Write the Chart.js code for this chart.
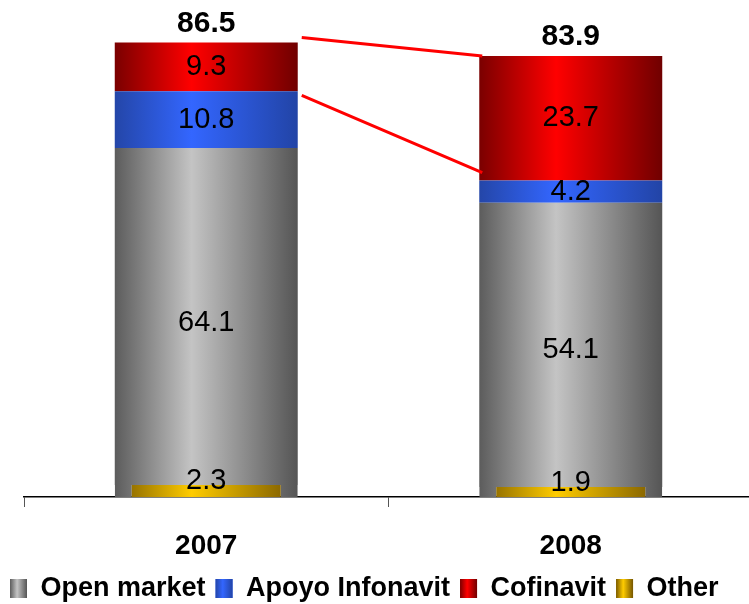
<!DOCTYPE html>
<html>
<head>
<meta charset="utf-8">
<script src="https://cdn.jsdelivr.net/npm/chart.js@4.4.1/dist/chart.umd.min.js"></script>
<style>
  html, body { margin: 0; padding: 0; background: #fff; overflow: hidden; }
  #wrap { position: relative; width: 753px; height: 612px; }
</style>
</head>
<body>
<div id="wrap"><canvas id="housingChart"></canvas></div>
<script>
// values
const years = ['2007', '2008'];
const openMarket = [64.1, 54.1];
const apoyoInfonavit = [10.8, 4.2];
const cofinavit = [9.3, 23.7];
const other = [2.3, 1.9];

const FONT = "'Liberation Sans', Arial, sans-serif";
const BAR_PCT = 0.502;

// dark edge / light middle / dark edge, like a cylinder
const grayStops = ['#5c5c5c', '#c4c4c4', '#555555'];
const blueStops = ['#2446a8', '#3366ff', '#2244a6'];
const redStops = ['#7a0000', '#ff0000', '#700000'];
const yellowStops = ['#7a5a00', '#ffcc00', '#765600'];

function makeGradient(chart, x0, x1, stops) {
  const g = chart.ctx.createLinearGradient(x0, 0, x1, 0);
  g.addColorStop(0, stops[0]);
  g.addColorStop(0.42, stops[1]);
  g.addColorStop(1, stops[2]);
  return g;
}

function barGradient(stops) {
  return (ctx) => {
    const chart = ctx.chart;
    const xs = chart.scales.x;
    if (!chart.chartArea || ctx.dataIndex === undefined || !xs) return stops[1];
    const cx = xs.getPixelForValue(ctx.dataIndex);
    const half = xs.width / years.length * BAR_PCT / 2;
    return makeGradient(chart, cx - half, cx + half, stops);
  };
}

// labels inside the segments, totals on top, red connector lines
const labelPlugin = {
  id: 'labelPlugin',
  afterDatasetsDraw(chart) {
    const ctx = chart.ctx;
    const y0 = chart.scales.y.getPixelForValue(0);
    const metas = chart.data.datasets.map((d, i) => chart.getDatasetMeta(i));

    ctx.save();
    ctx.fillStyle = '#000';
    ctx.textAlign = 'center';
    ctx.textBaseline = 'middle';
    ctx.font = '29px ' + FONT;
    chart.data.datasets.forEach((ds, i) => {
      metas[i].data.forEach((el, j) => {
        let y = (el.y + el.base) / 2;
        if (ds.key === 'other') y = el.y - 4;
        if (ds.key === 'open') y = (el.y + y0) / 2;
        ctx.fillText(ds.data[j].toFixed(1), el.x, y);
      });
    });

    // totals
    ctx.font = 'bold 30px ' + FONT;
    const top = metas[metas.length - 1];
    years.forEach((yr, j) => {
      const total = chart.data.datasets.reduce((s, ds) => s + ds.data[j], 0);
      ctx.fillText(total.toFixed(1), top.data[j].x, top.data[j].y - 19);
    });

    // connector lines between the two bars
    const red = metas[3].data, blue = metas[2].data;
    const r0 = red[0].x + red[0].width / 2 + 4;
    const l1 = red[1].x - red[1].width / 2 + 3;
    ctx.strokeStyle = '#ff0000';
    ctx.lineWidth = 3;
    ctx.beginPath();
    ctx.moveTo(r0, red[0].y - 5);
    ctx.lineTo(l1, red[1].y);
    ctx.moveTo(r0, blue[0].y + 4);
    ctx.lineTo(l1, blue[1].y - 8);
    ctx.stroke();
    ctx.restore();
  },
  afterDraw(chart) {
    // shaded legend boxes
    const legend = chart.legend;
    if (!legend || !legend.legendHitBoxes) return;
    const ctx = chart.ctx;
    const opts = legend.options.labels;
    legend.legendHitBoxes.forEach((hb, i) => {
      const item = legend.legendItems[i];
      const x = hb.left;
      const y = hb.top + Math.max((opts.font.size - opts.boxHeight) / 2, 0);
      ctx.fillStyle = makeGradient(chart, x, x + opts.boxWidth, item.stops);
      ctx.fillRect(x, y, opts.boxWidth, opts.boxHeight);
    });
  }
};

// stacked bottom to top; legendPos gives the legend order
const datasets = [
  {
    key: 'other', label: 'Other', data: other, legendPos: 4, stops: yellowStops,
    backgroundColor: barGradient(yellowStops),
    borderColor: barGradient(grayStops),
    borderWidth: {left: 17, right: 17, top: 0, bottom: 0},
    borderSkipped: false
  },
  { key: 'open', label: 'Open market', data: openMarket, legendPos: 1, stops: grayStops,
    backgroundColor: barGradient(grayStops) },
  { key: 'apoyo', label: 'Apoyo Infonavit', data: apoyoInfonavit, legendPos: 2, stops: blueStops,
    backgroundColor: barGradient(blueStops) },
  { key: 'cofi', label: 'Cofinavit', data: cofinavit, legendPos: 3, stops: redStops,
    backgroundColor: barGradient(redStops) }
];

new Chart(document.getElementById('housingChart'), {
  type: 'bar',
  data: {
    labels: years,
    datasets: datasets.map(d => Object.assign({barPercentage: BAR_PCT, categoryPercentage: 1}, d))
  },
  options: {
    responsive: true,
    maintainAspectRatio: false,
    animation: false,
    layout: { padding: {top: 24, left: 0, right: 0, bottom: 0} },
    scales: {
      x: {
        stacked: true,
        grid: { display: true, drawOnChartArea: false, drawTicks: true, tickLength: 10, offset: true, color: '#555' },
        border: { display: true, color: '#000', width: 1.5 },
        ticks: { color: '#000', padding: 22, font: { family: FONT, size: 28, weight: 'bold' } },
        afterFit: (s) => { s.height = 68; }
      },
      y: {
        stacked: true, min: 0, max: 90,
        grid: { display: false }, border: { display: false },
        ticks: { display: false },
        afterFit: (s) => { s.width = 24; }
      }
    },
    plugins: {
      tooltip: { enabled: false },
      legend: {
        position: 'bottom',
        align: 'start',
        labels: {
          color: '#000',
          boxWidth: 17,
          boxHeight: 19,
          padding: 10,
          font: { family: FONT, size: 27, weight: 'bold' },
          generateLabels: (chart) => chart.data.datasets
            .map((ds, i) => ({
              text: ds.label, datasetIndex: i, legendPos: ds.legendPos, stops: ds.stops,
              fillStyle: ds.stops[1], strokeStyle: ds.stops[1], lineWidth: 0,
              fontColor: '#000', hidden: false
            }))
            .sort((a, b) => a.legendPos - b.legendPos)
        }
      }
    }
  },
  plugins: [labelPlugin]
});
</script>
</body>
</html>
